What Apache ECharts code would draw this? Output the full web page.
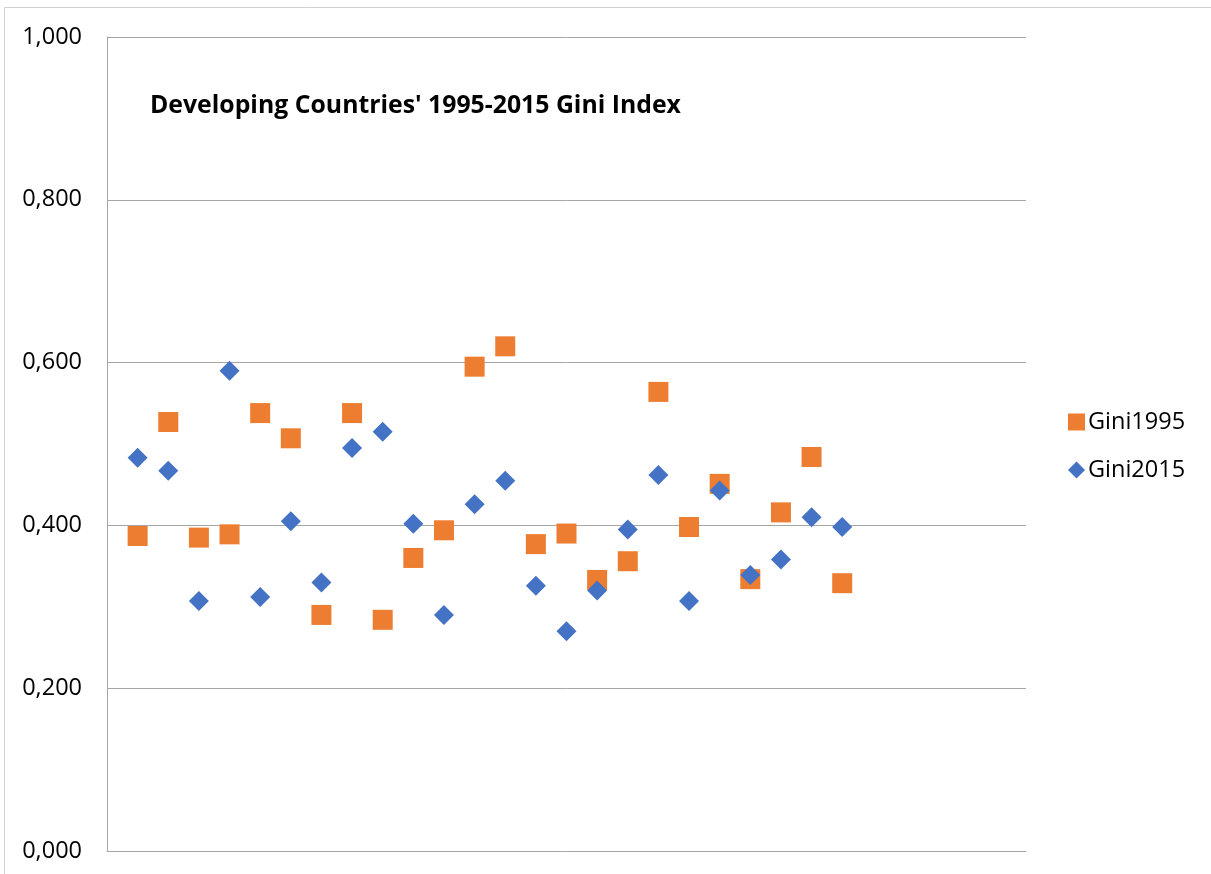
<!DOCTYPE html>
<html>
<head>
<meta charset="utf-8">
<title>Gini Index</title>
<script src="https://cdn.jsdelivr.net/npm/echarts@6/dist/echarts.min.js"></script>
<style>
  html, body { margin: 0; padding: 0; background: #fff; }
  #main { width: 1211px; height: 874px; }
</style>
</head>
<body>
<div id="main"></div>
<script>
// country index on the x axis (1..24)
const countryIdx = [1, 2, 3, 4, 5, 6, 7, 8, 9, 10, 11, 12, 13, 14, 15, 16, 17, 18, 19, 20, 21, 22, 23, 24];
const gini1995 = [0.387, 0.527, 0.385, 0.389, 0.538, 0.507, 0.290, 0.538, 0.284, 0.360, 0.394, 0.595,
                  0.620, 0.377, 0.390, 0.333, 0.356, 0.564, 0.398, 0.451, 0.334, 0.416, 0.484, 0.329];
const gini2015 = [0.483, 0.467, 0.307, 0.590, 0.312, 0.405, 0.330, 0.495, 0.515, 0.402, 0.290, 0.426,
                  0.455, 0.326, 0.270, 0.320, 0.395, 0.462, 0.307, 0.443, 0.339, 0.358, 0.410, 0.398];
const yTicks = [0, 0.2, 0.4, 0.6, 0.8, 1.0];

const font = '"Open Sans", Lato, sans-serif';
const grey = '#a6a6a6';

const chart = echarts.init(document.getElementById('main'));

chart.setOption({
    animation: false,
    backgroundColor: '#fff',
    textStyle: { fontFamily: font },
    graphic: [{
        type: 'rect',
        shape: { x: 4.5, y: 7.5, width: 1220, height: 880 },
        style: { fill: 'none', stroke: '#d0d0d0', lineWidth: 1 },
        silent: true
    }],
    title: {
        text: "Developing Countries' 1995-2015 Gini Index",
        left: 145,
        top: 88,
        textStyle: { fontFamily: font, fontSize: 24.8, fontWeight: 'bold', color: '#000' }
    },
    legend: {
        orient: 'vertical',
        left: 1063,
        top: 405,
        itemWidth: 17,
        itemHeight: 17,
        itemGap: 24,
        textStyle: { fontFamily: font, fontSize: 23.5, color: '#000', padding: [0, 0, 0, -2] },
        data: [
            { name: 'Gini1995', icon: 'rect' },
            { name: 'Gini2015', icon: 'diamond' }
        ]
    },
    grid: { left: 107, top: 37, right: 185, bottom: 23 },
    xAxis: {
        type: 'value',
        min: 0,
        max: 30,
        axisLine: { show: true, onZero: false, lineStyle: { color: grey, width: 1 } },
        axisTick: { show: false },
        axisLabel: { show: false },
        splitLine: { show: false }
    },
    yAxis: {
        type: 'value',
        min: yTicks[0],
        max: yTicks[yTicks.length - 1],
        interval: 0.2,
        axisLine: { show: true, lineStyle: { color: grey, width: 1 } },
        axisTick: { show: false },
        axisLabel: {
            margin: 25,
            fontFamily: font,
            fontSize: 23.5,
            color: '#000',
            formatter: v => v.toFixed(3).replace('.', ',')
        },
        splitLine: { show: true, lineStyle: { color: grey, width: 1 } }
    },
    series: [
        {
            name: 'Gini1995',
            type: 'scatter',
            symbol: 'rect',
            symbolSize: 20,
            itemStyle: { color: '#ED7D31', opacity: 1 },
            data: countryIdx.map((x, i) => [x, gini1995[i]])
        },
        {
            name: 'Gini2015',
            type: 'scatter',
            symbol: 'diamond',
            symbolSize: 20,
            itemStyle: { color: '#4472C4', opacity: 1 },
            data: countryIdx.map((x, i) => [x, gini2015[i]])
        }
    ]
}, true);
</script>
</body>
</html>
